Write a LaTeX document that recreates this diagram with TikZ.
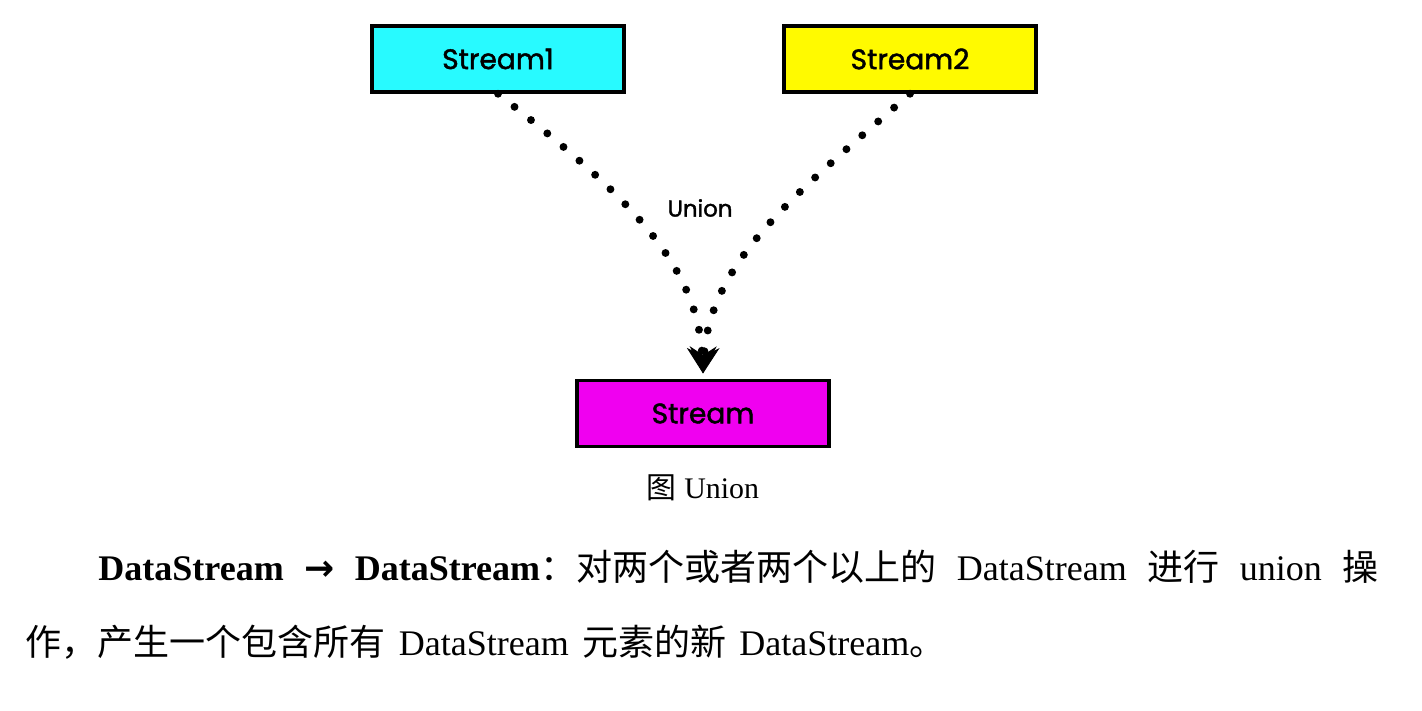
\documentclass[tikz,border=0pt]{standalone}
\usepackage{fontspec}
\setmainfont{Liberation Serif}
\newfontfamily\cjk{Noto Sans CJK SC}
\newfontfamily\handfont{Poppins}[FakeBold=1.6]
\newfontfamily\symfont{DejaVu Sans}
\usetikzlibrary{arrows.meta,positioning}
\definecolor{streamcyan}{RGB}{40,250,255}
\definecolor{streamyellow}{RGB}{255,250,0}
\definecolor{streammagenta}{RGB}{240,0,240}

\begin{document}
\begin{tikzpicture}[
    >=Stealth,
    node distance=0.4cm,
    box/.style={
        rectangle,
        draw=black,
        line width=2pt,
        minimum width=5.04cm,
        minimum height=1.32cm,
        font=\handfont\fontsize{16}{19}\selectfont
    },
    dots/.style={
        line width=4.5pt,
        line cap=round,
        dash pattern=on 0pt off 12pt,
        -{Stealth[length=15pt,width=17pt,line width=0.5pt]}
    },
    body/.style={
        anchor=base west,
        inner sep=0pt,
        font=\fontsize{20.5}{24}\selectfont
    }
]
\useasboundingbox (0,0) rectangle (28.44,14.2);

\node[box, fill=streamcyan] (s1) at (9.96,13.02) {Stream1};
\node[box, fill=streamyellow] (s2) at (18.2,13.02) {Stream2};
\node[box, fill=streammagenta] (out) at (14.06,5.93) {Stream};
\node[font=\handfont\fontsize{13}{16}\selectfont] (union) at (14.0,10.04) {Union};
\node[below=of out, font=\fontsize{17}{20}\selectfont] (cap) {{\cjk 图}\ Union};

\draw[dots] (s1.south) .. controls (12.4,10.4) and (13.95,9.0) .. ([yshift=3pt]out.north);
\draw[dots] (s2.south) .. controls (16.0,10.4) and (14.2,9.0) .. ([yshift=3pt]out.north);

\node[body] (line1) at (1.96,2.6) {\makebox[25.6cm][s]{\textbf{DataStream} {\symfont\bfseries →} \textbf{DataStream}{\cjk ：对两个或者两个以上的} DataStream {\cjk 进行} union {\cjk 操}}};
\node[body] (line2) at (0.5,1.1) {\makebox[18.4cm][s]{{\cjk 作，产生一个包含所有} DataStream {\cjk 元素的新} DataStream{\cjk 。}}};
\end{tikzpicture}
\end{document}
